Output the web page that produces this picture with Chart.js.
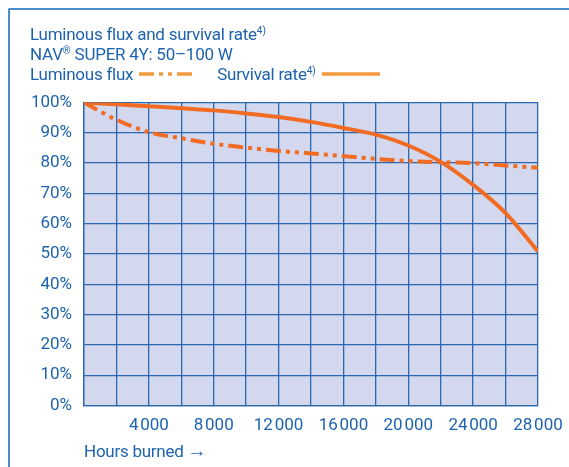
<!DOCTYPE html>
<html><head><meta charset="utf-8">
<script src="https://cdn.jsdelivr.net/npm/chart.js@4"></script>
<style>
html,body{margin:0;padding:0;background:#fff;}
#wrap{position:relative;width:569px;height:467px;overflow:hidden;font-family:"Liberation Sans Narrow","Roboto",sans-serif;color:#1d63ae;}
#frame{position:absolute;left:8px;top:8px;width:600px;height:500px;border-left:2px solid #4a8bc9;border-top:2px solid #4a8bc9;border-top-left-radius:2px;}
.t{position:absolute;left:30px;font-size:17px;letter-spacing:-0.25px;white-space:nowrap;line-height:20px;}
sup{font-size:10px;vertical-align:6px;line-height:0;letter-spacing:0;}
#c{position:absolute;left:0;top:0;}
#xt{position:absolute;left:84px;top:439px;font-size:17px;letter-spacing:-0.25px;white-space:nowrap;}
</style></head>
<body><div id="wrap">
<div id="frame"></div>
<canvas id="c" width="569" height="467"></canvas>
<div class="t" style="top:24px">Luminous flux and survival rate<sup>4)</sup></div>
<div class="t" style="top:44px">NAV<sup>®</sup> SUPER 4Y: 50–100 W</div>
<div class="t" style="top:64px">Luminous flux <svg width="60" height="10" style="vertical-align:1px"><line x1="2" y1="5" x2="58" y2="5" stroke="#f39a3f" stroke-width="3.5" stroke-dasharray="15,5,4,5,4,5"/></svg><span style="display:inline-block;width:20px"></span>Survival rate<sup>4)</sup> <svg width="62" height="10" style="vertical-align:1px"><line x1="2" y1="5" x2="60" y2="5" stroke="#f39a3f" stroke-width="3.5"/></svg></div>
<div id="xt">Hours burned <span style="font-size:19px">→</span></div>
</div>
<script>
const hours = [0,2000,4000,6000,8000,10000,12000,14000,16000,18000,20000,22000,24000,26000,28000];
const luminousFlux = [100,94.3,90.2,88.2,86.4,85.1,84,83.2,82.3,81.4,80.7,80.3,80,79.2,78.5];
const survivalRate = [100,99.4,98.8,98.1,97.4,96.4,95.2,93.6,91.6,89.4,85.8,80.4,72.8,63.5,50.8];
const yTicks = [0,10,20,30,40,50,60,70,80,90,100];
const xLabelEvery = 4000;
const blue = '#1d63ae', orange = '#f26b23', grid = '#2a67b0';

const bgPlugin = {id:'bg',beforeDraw(ch){const a=ch.chartArea,c=ch.ctx;c.save();c.fillStyle='#d3d8ee';c.fillRect(a.left,a.top,a.right-a.left,a.bottom-a.top);c.restore();}};
const fmt = v => String(v).replace(/(\d)(\d{3})$/,'$1\u200A$2');
const tickFont = {family:'"Liberation Sans Narrow", Roboto, sans-serif',size:17};

new Chart(document.getElementById('c'),{
 type:'line',
 data:{datasets:[
  {label:'Luminous flux',data:hours.map((h,i)=>({x:h,y:luminousFlux[i]})),borderColor:orange,borderWidth:4,borderDash:[15,5,4,5,4,5],pointRadius:0,cubicInterpolationMode:'monotone',fill:false},
  {label:'Survival rate',data:hours.map((h,i)=>({x:h,y:survivalRate[i]})),borderColor:orange,borderWidth:4,pointRadius:0,cubicInterpolationMode:'monotone',fill:false}
 ]},
 options:{responsive:false,animation:false,devicePixelRatio:1,
  layout:{padding:{left:0,top:102.5,right:31,bottom:0}},
  plugins:{legend:{display:false},tooltip:{enabled:false}},
  scales:{
   x:{type:'linear',min:0,max:28000,
     afterFit(s){s.height=61.5;s.paddingLeft=0;s.paddingRight=0;},
     afterBuildTicks(s){s.ticks=hours.map(v=>({value:v}));},
     grid:{color:grid,lineWidth:1.3,drawTicks:false},border:{color:grid,width:1.3},
     ticks:{padding:10,color:blue,font:tickFont,maxRotation:0,autoSkip:false,
       callback:v=>(v>0&&v%xLabelEvery===0)?fmt(v):''}},
   y:{min:0,max:100,
     afterFit(s){s.width=84;s.paddingTop=0;s.paddingBottom=0;},
     afterBuildTicks(s){s.ticks=yTicks.map(v=>({value:v}));},
     grid:{color:grid,lineWidth:1.3,drawTicks:false},border:{color:grid,width:1.3},
     ticks:{padding:12,color:blue,font:tickFont,callback:v=>v+'%'}}
  }},
 plugins:[bgPlugin]
});
</script></body></html>
